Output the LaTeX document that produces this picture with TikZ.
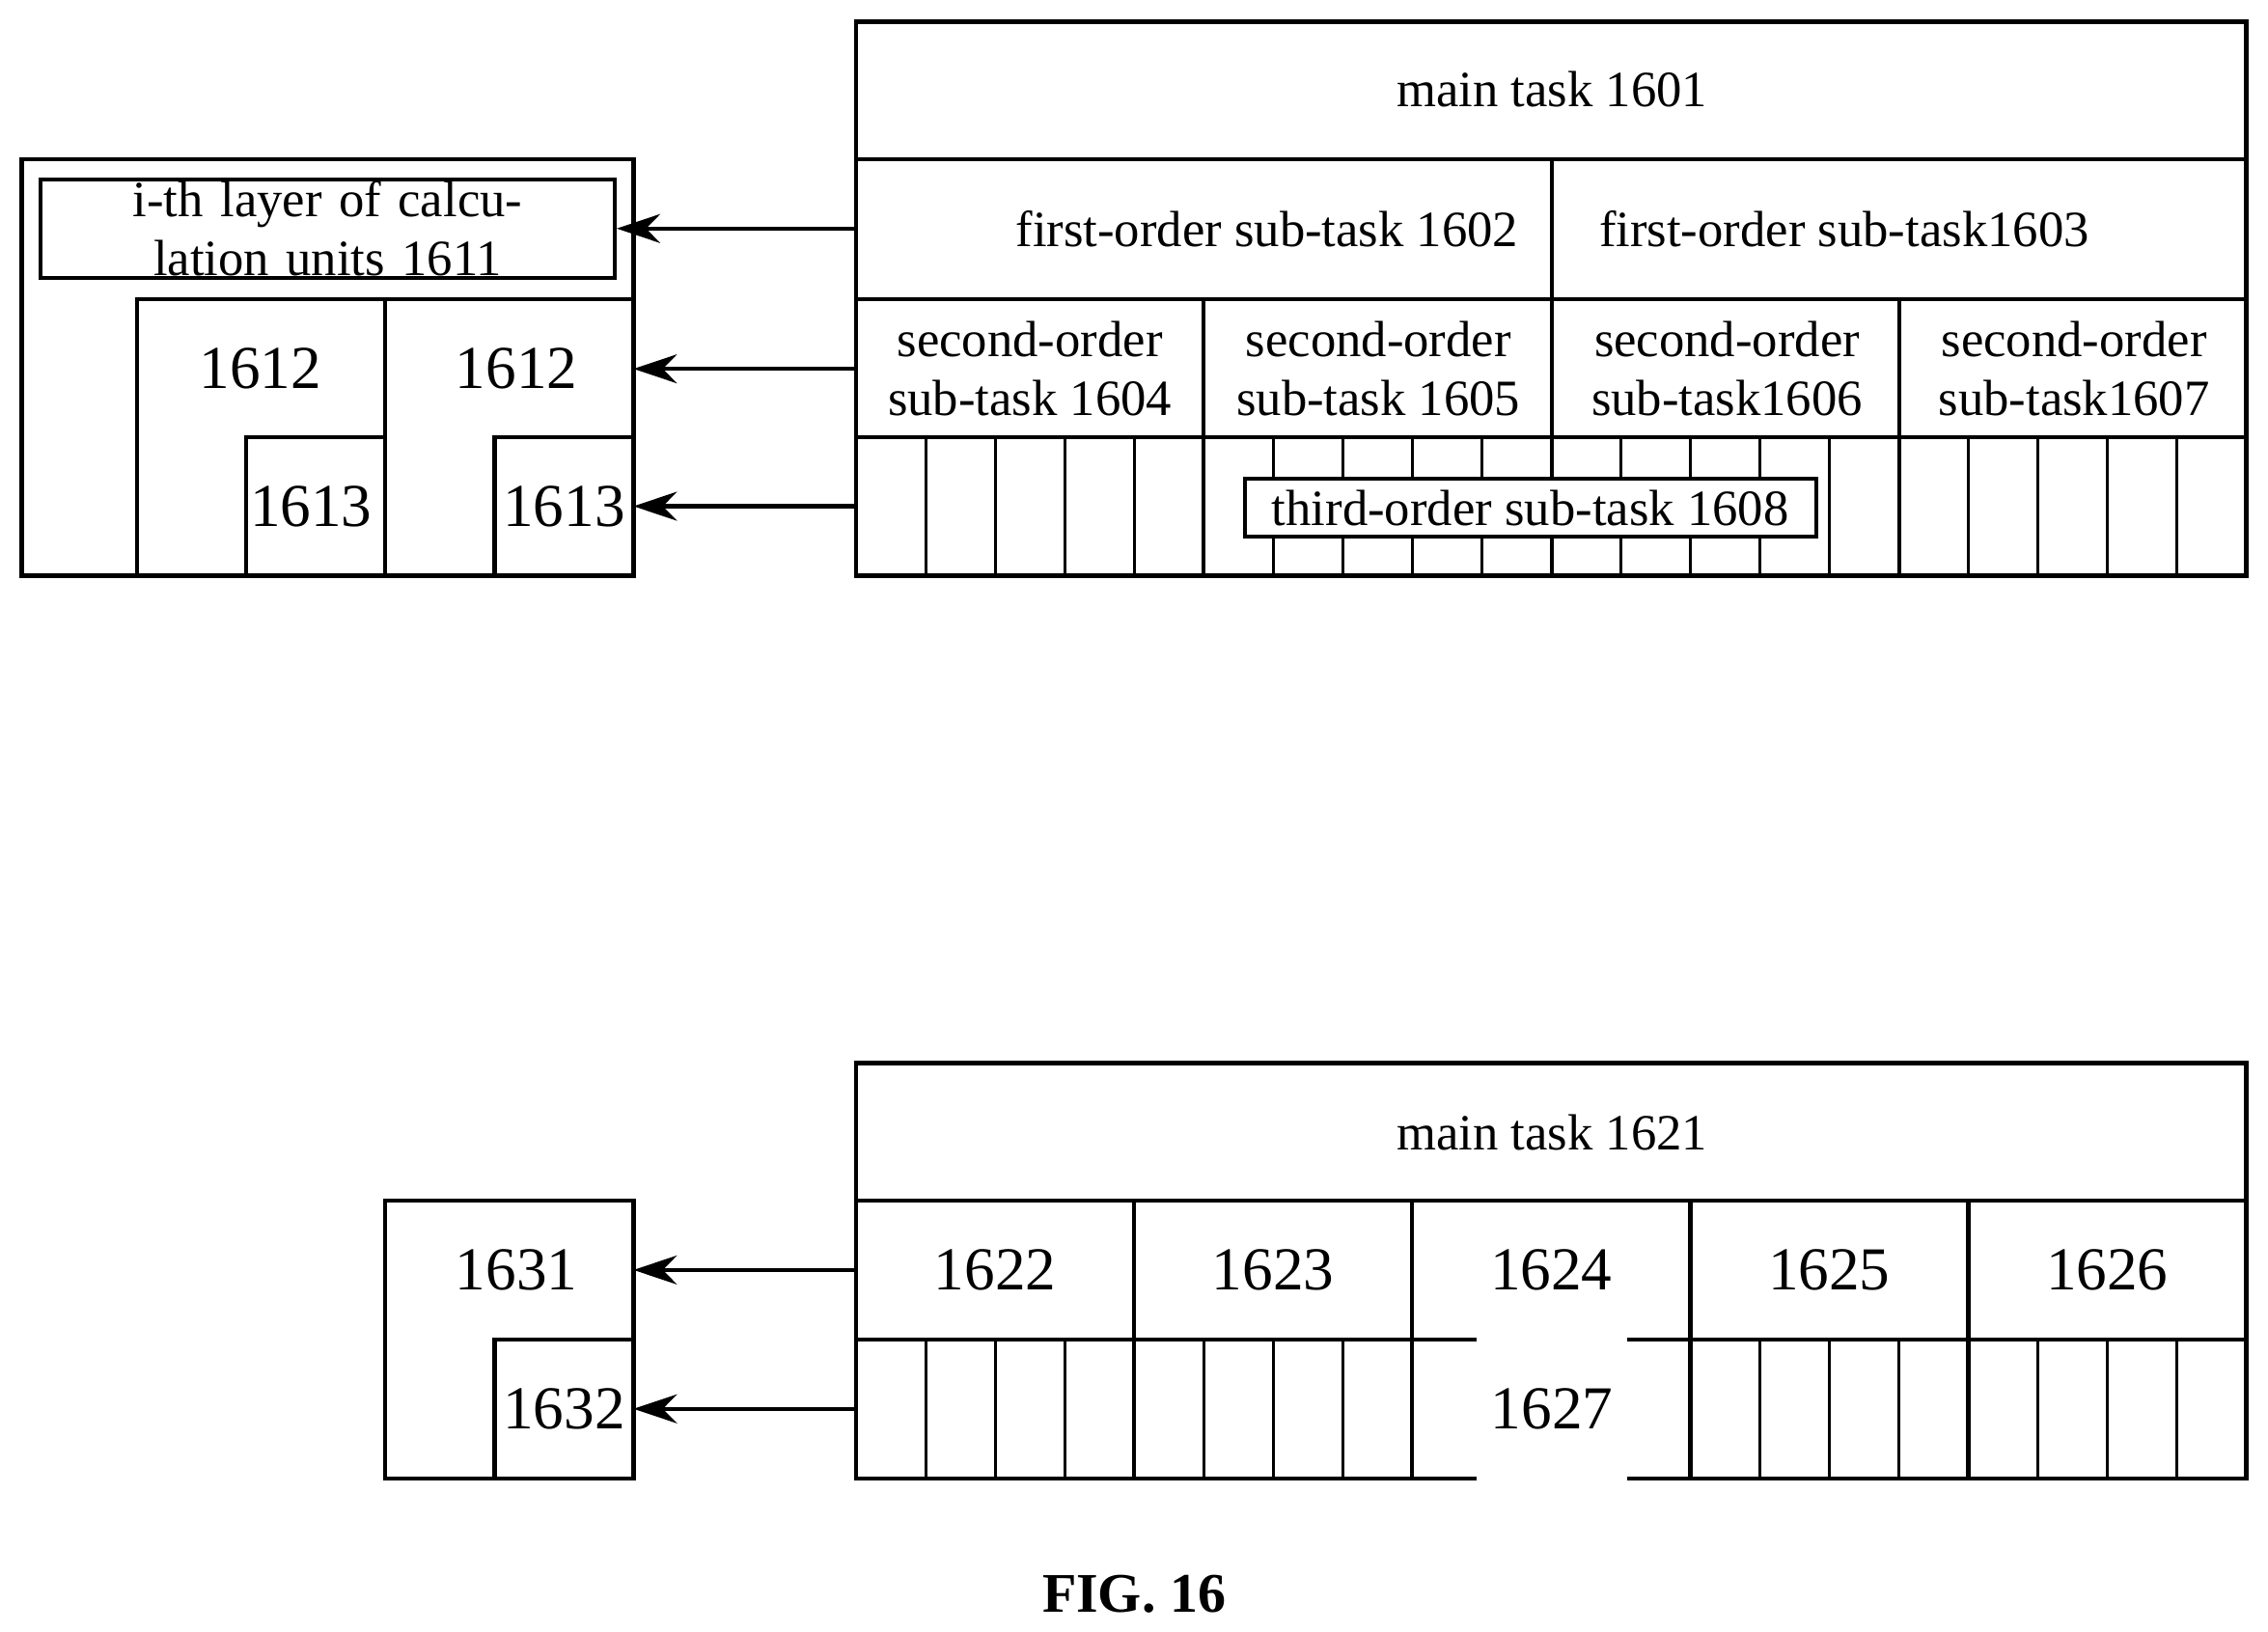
\documentclass[tikz,border=0pt]{standalone}
\usepackage{fontspec}
\setmainfont{Liberation Serif}
\usetikzlibrary{arrows.meta,positioning}
\tikzset{
  box/.style={draw,line width=0.8pt},
  thin/.style={line width=0.5pt},
  lbl/.style={font=\fontsize{10}{11.5}\selectfont,align=center},
  num/.style={font=\fontsize{12}{13}\selectfont},
  link/.style={-{Stealth[length=3mm,width=2mm]},line width=0.8pt}
}
\begin{document}
\begin{tikzpicture}[x=0.1mm,y=-0.1mm]
\useasboundingbox (0,0) rectangle (1568,1128);
% upper task tree
\draw[box] (592,15) rectangle (1553,398);
\foreach \y in {110,207,302} \draw[box] (592,\y) -- (1553,\y);
\draw[box] (1073,110) -- (1073,302);
\foreach \x in {832,1313} \draw[box] (\x,207) -- (\x,398);
\draw[box] (1073,302) -- (1073,398);
\foreach \i in {1,...,19} \draw[thin] ({592+48.05*\i},302) -- ({592+48.05*\i},398);
\node[lbl] (t1601) at (1073,62) {main task 1601};
\node[lbl] (t1602) at (876,158) {first-order sub-task 1602};
\node[lbl] (t1603) at (1275,158) {first-order sub-task1603};
\node[lbl] (t1604) at (712,255) {second-order\\sub-task 1604};
\node[lbl] (t1605) at (953,255) {second-order\\sub-task 1605};
\node[lbl] (t1606) at (1194,255) {second-order\\sub-task1606};
\node[lbl] (t1607) at (1434,255) {second-order\\sub-task1607};
\node[lbl,box,fill=white,minimum width=39.5mm,minimum height=4mm,inner sep=0pt] (t1608) at (1058,351) {third-order sub-task 1608};
\coordinate (r1) at (592,158);
\coordinate (r2) at (592,255);
\coordinate (r3) at (592,350);
% calculation units
\draw[box] (15,110) rectangle (438,398);
\node[lbl,box,minimum width=39.7mm,minimum height=6.8mm,inner sep=0pt,text width=38mm] (u1611) at (226.5,158) {i-th layer of calculation units 1611};
\draw[box] (95,207) rectangle (266,398);
\draw[box] (266,207) rectangle (438,398);
\draw[box] (170,302) rectangle (266,398);
\draw[box] (342,302) rectangle (438,398);
\node[num] (u1612a) at (180,255) {1612};
\node[num] (u1612b) at (357,255) {1612};
\node[num] (u1613a) at (215,350) {1613};
\node[num] (u1613b) at (390,350) {1613};
\draw[link] (r1) -- (u1611.east|-r1);
\draw[link] (r2) -- (438,255);
\draw[link] (r3) -- (438,350);
% lower task tree
\draw[box] (592,735) rectangle (1553,1022);
\foreach \y in {830,926} \draw[box] (592,\y) -- (1553,\y);
\foreach \i in {1,...,4} \draw[box] ({592+192.2*\i},830) -- ({592+192.2*\i},1022);
\foreach \i in {1,...,19} \draw[thin] ({592+48.05*\i},926) -- ({592+48.05*\i},1022);
\node[lbl] (t1621) at (1073,783) {main task 1621};
\foreach \n [count=\i from 0] in {1622,1623,1624,1625,1626}
  \node[num] (t\n) at ({688+192.2*\i},878) {\n};
\node[num,fill=white,inner sep=1mm,minimum height=10.5mm] (t1627) at (1073,974) {1627};
\coordinate (s1) at (592,878);
\coordinate (s2) at (592,974);
\draw[box] (266,830) rectangle (438,1022);
\draw[box] (342,926) rectangle (438,1022);
\node[num] (u1631) at (357,878) {1631};
\node[num] (u1632) at (390,974) {1632};
\draw[link] (s1) -- (438,878);
\draw[link] (s2) -- (438,974);
\node[font=\bfseries\fontsize{11}{12}\selectfont] (fig) at (784,1102) {FIG. 16};
\end{tikzpicture}
\end{document}
